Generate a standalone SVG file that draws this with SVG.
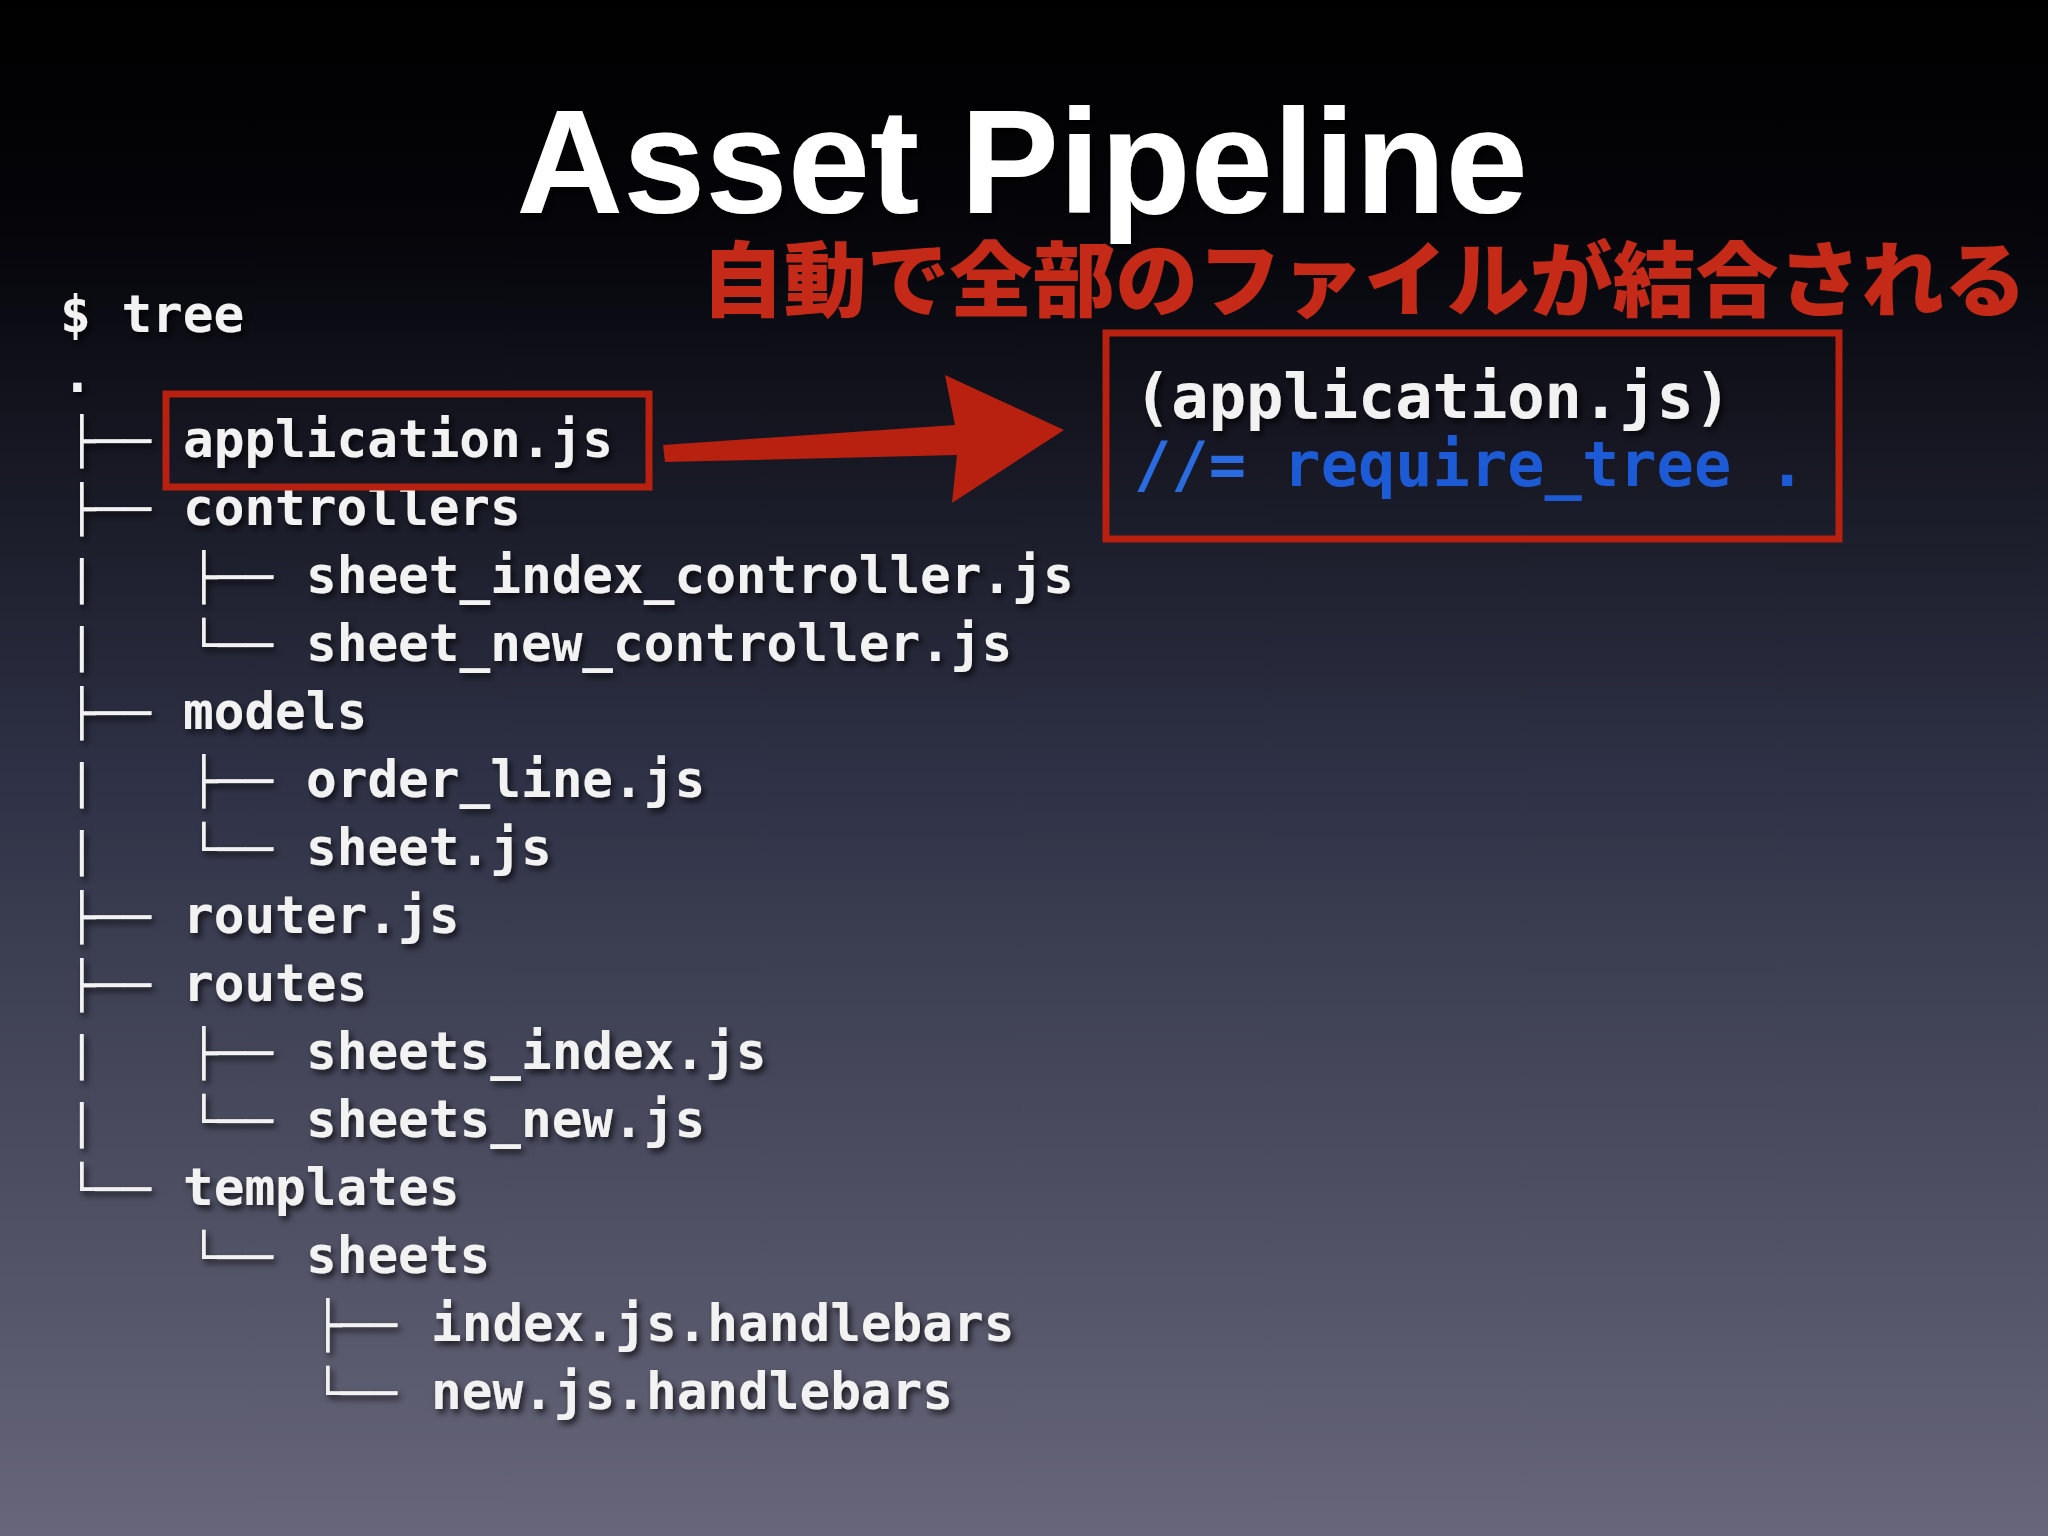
<svg xmlns="http://www.w3.org/2000/svg" width="2048" height="1536" viewBox="0 0 2048 1536">
<defs>
<linearGradient id="bg" x1="0" y1="0" x2="0" y2="1">
<stop offset="0" stop-color="#000"/><stop offset="0.15" stop-color="#05050a"/><stop offset="0.5" stop-color="#2e3145"/><stop offset="1" stop-color="#67667a"/>
</linearGradient>
<filter id="sh"><feDropShadow dx="3" dy="4" stdDeviation="3" flood-color="#000" flood-opacity="0.7"/></filter>
<style>
.t{font-family:"DejaVu Sans Mono","Liberation Mono",monospace;font-weight:bold;font-size:51px;fill:#f2f2f2}
.g{font-family:"DejaVu Sans Mono","Liberation Mono",monospace;font-size:46px;fill:#f2f2f2}
.c{font-family:"DejaVu Sans Mono","Liberation Mono",monospace;font-weight:bold;font-size:62px;fill:#f2f2f2}
.red{fill:none;stroke:#b8200f;stroke-width:7}
</style>
</defs>
<rect width="2048" height="1536" fill="url(#bg)"/>
<text x="1022" y="213" text-anchor="middle" font-family="Liberation Sans,Arial,sans-serif" font-weight="bold" font-size="148" fill="#fff" filter="url(#sh)">Asset Pipeline</text>
<text x="701" y="310" textLength="1326" lengthAdjust="spacingAndGlyphs" font-family="Noto Sans CJK JP,sans-serif" font-weight="900" font-size="82" fill="#c42a17">自動で全部のファイルが結合される</text>
<g id="tree" filter="url(#sh)">
<text class="t" x="60" y="332">$ tree</text>
<text class="t" x="62" y="392">.</text>
<g class="g">
<text x="68" y="457">├──</text>
<text x="68" y="525">├──</text>
<text x="68" y="593">|</text><text x="190" y="593">├──</text>
<text x="68" y="661">|</text><text x="190" y="661">└──</text>
<text x="68" y="729">├──</text>
<text x="68" y="797">|</text><text x="190" y="797">├──</text>
<text x="68" y="865">|</text><text x="190" y="865">└──</text>
<text x="68" y="933">├──</text>
<text x="68" y="1001">├──</text>
<text x="68" y="1069">|</text><text x="190" y="1069">├──</text>
<text x="68" y="1137">|</text><text x="190" y="1137">└──</text>
<text x="68" y="1205">└──</text>
<text x="190" y="1273">└──</text>
<text x="314" y="1341">├──</text>
<text x="314" y="1409">└──</text>
</g>
<g class="t">
<text x="183" y="457">application.js</text>
<text x="183" y="525">controllers</text>
<text x="306" y="593">sheet_index_controller.js</text>
<text x="306" y="661">sheet_new_controller.js</text>
<text x="183" y="729">models</text>
<text x="306" y="797">order_line.js</text>
<text x="306" y="865">sheet.js</text>
<text x="183" y="933">router.js</text>
<text x="183" y="1001">routes</text>
<text x="306" y="1069">sheets_index.js</text>
<text x="306" y="1137">sheets_new.js</text>
<text x="183" y="1205">templates</text>
<text x="306" y="1273">sheets</text>
<text x="431" y="1341">index.js.handlebars</text>
<text x="431" y="1409">new.js.handlebars</text>
</g>
</g>
<g id="app-box"><rect class="red" x="166" y="394" width="483" height="93"/></g>
<g id="connectors">
<path d="M663 445 L955 425 L945 375 L1064 430 L952 503 L957 455 L665 462 Z" fill="#b8200f"/>
</g>
<g id="code-box">
<rect class="red" x="1106" y="333" width="733" height="206"/>
<text class="c" x="1134" y="418" filter="url(#sh)">(application.js)</text>
<text class="c" x="1134" y="486" style="fill:#1d5bd6" xml:space="preserve"><tspan style="fill:#2a6be0">//=</tspan> require_tree .</text>
</g>
</svg>
